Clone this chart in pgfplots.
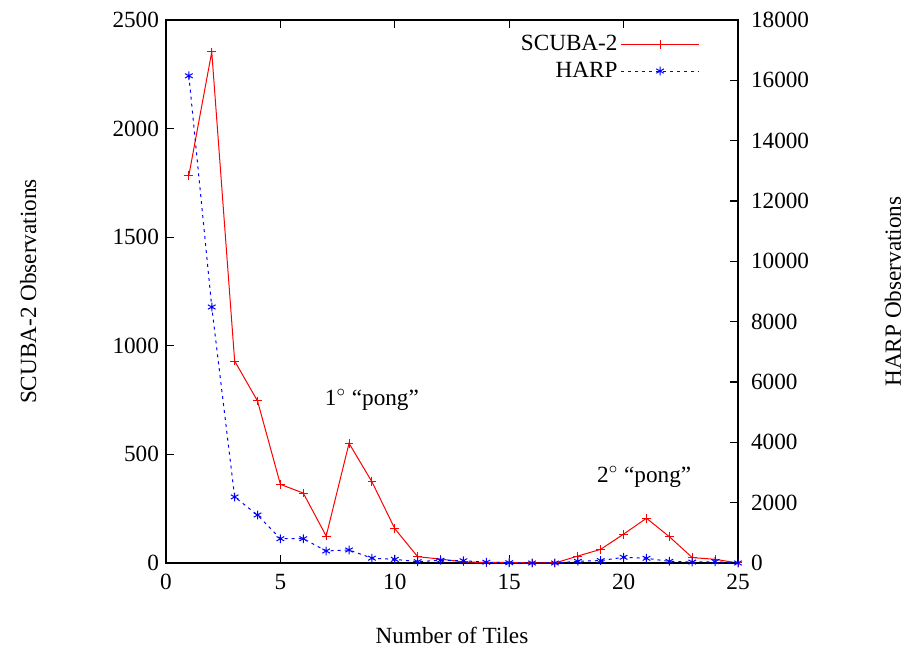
\documentclass[border=0pt]{standalone}
\usepackage{fontspec}
\setmainfont{Liberation Serif}
\usepackage{pgfplots}
\pgfplotsset{compat=1.18}

\pgfplotstableread{
x scuba harp
1 1785 16150
2 2353 8485
3 930 2190
4 746 1590
5 362 805
6 322 805
7 124 398
8 551 431
9 374 160
10 158 120
11 29 45
12 18 90
13 5 75
14 2 25
15 3 10
16 0 0
17 0 0
18 32 55
19 63 80
20 133 190
21 206 155
22 121 55
23 25 30
24 17 45
25 0 0
}\tiles

\pgfplotsset{
  every axis/.append style={
    scale only axis, width=286pt, height=271.5pt,
    xmin=0, xmax=25, clip=false,
    font=\fontsize{11.6}{13.5}\selectfont,
    /pgf/number format/assume math mode=true,
    /pgf/number format/set thousands separator={},
    scaled ticks=false,
    major tick length=4pt,
    tick style={black, line width=0.6pt},
    axis line style={line width=0.6pt},
  },
}

\begin{document}
\begin{tikzpicture}
\begin{axis}[
  name=main,
  ymin=0, ymax=2500,
  xtick={0,5,...,25},
  ytick={0,500,...,2500},
  ytick pos=left,
  xtick pos=both,
  xticklabel style={yshift=-2pt},
  xlabel={Number of Tiles},
  ylabel={SCUBA-2 Observations},
  xlabel style={at={(axis description cs:0.5,-0.1326)}, anchor=center},
  ylabel style={at={(axis description cs:-0.241,0.5)}, anchor=center},
]
\addplot[red, line width=0.5pt, mark=+, mark size=2.2pt] table[x=x, y=scuba] {\tiles};
\node at (axis cs:9.0,750) {1$^\circ$ ``pong''};
\node at (axis cs:20.9,396) {2$^\circ$ ``pong''};
\end{axis}
\begin{axis}[
  ymin=0, ymax=18000,
  axis x line=none,
  axis y line*=right,
  ytick={0,2000,...,18000},
  yticklabel style={xshift=3pt},
  ylabel={HARP Observations},
  ylabel style={at={(axis description cs:1.271,0.5)}, anchor=center},
  legend plot pos=right,
  legend cell align=right,
  legend image code/.code={
    \draw[mark repeat=2, mark phase=2, #1] plot coordinates {(5pt,0pt) (24.5pt,0pt) (44pt,0pt)};
  },
  legend style={draw=none, fill=none, at={(axis description cs:0.944,0.985)}, anchor=north east,
    row sep=1pt, nodes={inner sep=1.5pt}},
]
\addlegendimage{red, line width=0.5pt, mark=+, mark size=2.2pt}
\addlegendentry{SCUBA-2}
\addplot[blue, line width=0.5pt, dash pattern=on 1.5pt off 2pt, mark=asterisk, mark size=2.2pt,
  mark options={solid}] table[x=x, y=harp] {\tiles};
\addlegendentry{HARP}
\end{axis}
\pgfresetboundingbox
\path[use as bounding box] ([shift={(-83pt,-42pt)}]main.south west) rectangle ([shift={(83pt,10pt)}]main.north east);
\end{tikzpicture}
\end{document}
